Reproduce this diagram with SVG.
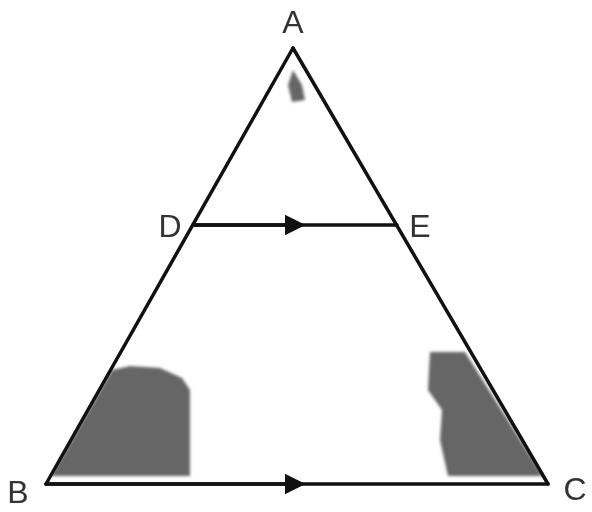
<svg xmlns="http://www.w3.org/2000/svg" width="592" height="512" viewBox="0 0 592 512">
<style>
.edge{stroke:#111;stroke-width:3.5;fill:none;stroke-linecap:round}
.shade{fill:#555;opacity:0.9}
.lbl{font-family:"Liberation Sans",Arial,sans-serif;font-size:32px;fill:#333}
</style>
<defs>
<marker id="arr" viewBox="0 0 10 10" refX="5" refY="5" markerWidth="6" markerHeight="6" orient="auto" markerUnits="strokeWidth">
<path d="M0,0 L10,5 L0,10 z" fill="#111"/>
</marker>
<filter id="blur"><feGaussianBlur stdDeviation="1.5"/></filter>
</defs>
<rect width="592" height="512" fill="#fff"/>
<g id="shading" filter="url(#blur)">
<polygon class="shade" points="112,370 130,366 160,368 182,378 190,390 190,476 51,476"/>
<polygon class="shade" points="430,352 465,352 543,476 448,476 440,440 442,410 428,390"/>
<polygon class="shade" points="293,70 302,85 305,100 292,102 288,85" opacity="0.7"/>
</g>
<g id="connectors">
<path class="edge" d="M293,48 L46,484"/>
<path class="edge" d="M293,48 L548,484"/>
<path class="edge" d="M46,484 L548,484"/>
<path class="edge" d="M193,225 L397,225"/>
<path class="edge" d="M193,225 L295,225" marker-end="url(#arr)"/>
<path class="edge" d="M46,484 L295,484" marker-end="url(#arr)"/>
</g>
<g id="A"><text class="lbl" x="293" y="33" text-anchor="middle">A</text></g>
<g id="D"><text class="lbl" x="170" y="237" text-anchor="middle">D</text></g>
<g id="E"><text class="lbl" x="420" y="237" text-anchor="middle">E</text></g>
<g id="B"><text class="lbl" x="18" y="503" text-anchor="middle">B</text></g>
<g id="C"><text class="lbl" x="575" y="500" text-anchor="middle">C</text></g>
</svg>
